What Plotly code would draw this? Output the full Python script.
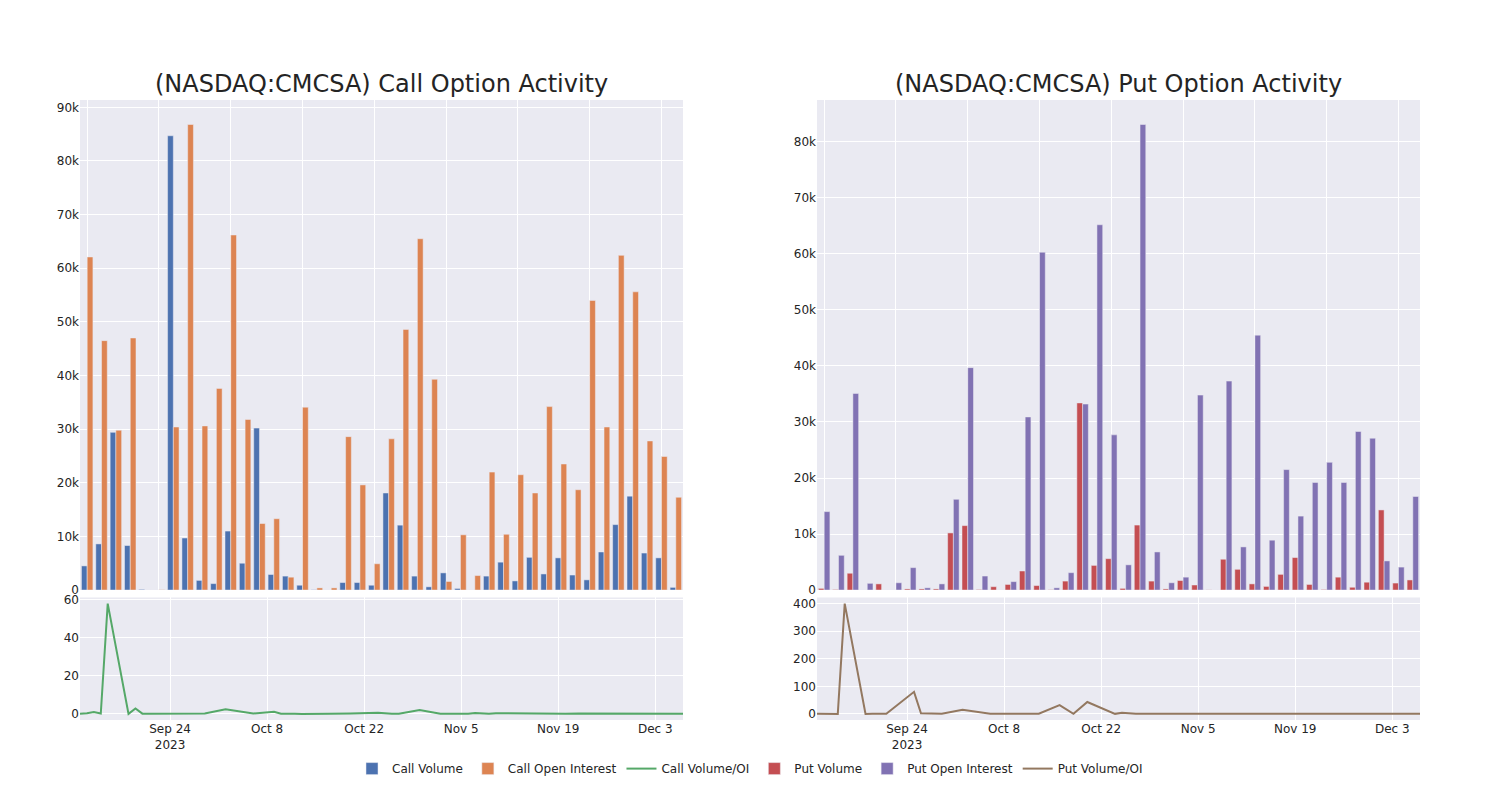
import plotly.graph_objects as go
from plotly.subplots import make_subplots

# ---------------- data ----------------
call_dates = [
    "2023-09-11", "2023-09-12", "2023-09-13", "2023-09-14", "2023-09-15", "2023-09-18",
    "2023-09-19", "2023-09-20", "2023-09-21", "2023-09-25", "2023-09-27", "2023-09-29",
    "2023-10-02", "2023-10-06", "2023-10-09", "2023-10-10", "2023-10-12", "2023-10-13",
    "2023-10-17", "2023-10-19", "2023-10-20", "2023-10-24", "2023-10-25", "2023-10-26",
    "2023-10-27", "2023-10-30", "2023-11-02", "2023-11-03", "2023-11-06", "2023-11-07",
    "2023-11-09", "2023-11-10", "2023-11-14", "2023-11-16", "2023-11-17", "2023-11-20",
    "2023-11-22", "2023-11-27", "2023-11-29", "2023-12-01", "2023-12-05", "2023-12-07",
]
call_volume = [
    4500, 8600, 29400, 8300, 120, 0, 84700, 9700, 1800, 1200,
    11000, 5000, 30200, 2900, 2600, 900, 50, 0, 1400, 1400,
    900, 18100, 12100, 2600, 600, 3200, 300, 0, 2600, 5200,
    1700, 6100, 3000, 6000, 2800, 1900, 7100, 12200, 17500, 6900,
    6000, 500,
]
call_open_interest = [
    62100, 46500, 29800, 47000, 2, 50, 30400, 86800, 30600, 37600,
    66200, 31800, 12400, 13300, 2400, 34100, 400, 400, 28600, 19600,
    4900, 28200, 48600, 65500, 39300, 1600, 10300, 2700, 22000, 10400,
    21500, 18100, 34200, 23500, 18700, 54000, 30400, 62400, 55600, 27800,
    24900, 17300,
]
call_volume_oi = [
    0.07, 0.3, 1.0, 0.18, 58, 0, 2.8, 0.11, 0.06, 0.03,
    0.17, 0.16, 2.44, 0.22, 1.08, 0.03, 0.1, 0, 0.05, 0.07,
    0.18, 0.64, 0.25, 0.04, 0.02, 2.0, 0.03, 0, 0.12, 0.5,
    0.08, 0.34, 0.09, 0.26, 0.15, 0.04, 0.23, 0.2, 0.31, 0.25,
    0.24, 0.03,
]

put_dates = [
    "2023-09-11", "2023-09-12", "2023-09-13", "2023-09-14", "2023-09-15", "2023-09-18",
    "2023-09-19", "2023-09-20", "2023-09-21", "2023-09-25", "2023-09-26", "2023-09-29",
    "2023-10-02", "2023-10-06", "2023-10-09", "2023-10-10", "2023-10-11", "2023-10-13",
    "2023-10-16", "2023-10-18", "2023-10-20", "2023-10-24", "2023-10-25", "2023-10-26",
    "2023-10-27", "2023-10-31", "2023-11-02", "2023-11-03", "2023-11-06", "2023-11-08",
    "2023-11-09", "2023-11-13", "2023-11-15", "2023-11-16", "2023-11-20", "2023-11-22",
    "2023-11-27", "2023-11-29", "2023-12-01", "2023-12-05", "2023-12-06", "2023-12-07",
]
put_volume = [
    300, 100, 3000, 0, 1100, 0, 200, 200, 200, 10200,
    11500, 100, 600, 1000, 3400, 800, 50, 1600, 33400, 4400,
    5600, 300, 11600, 1600, 200, 1700, 900, 30, 5500, 3700,
    1100, 650, 2800, 5800, 1000, 100, 2300, 500, 1400, 14300,
    1250, 1800,
]
put_open_interest = [
    14000, 6200, 35100, 1200, 3, 1300, 4000, 400, 1100, 16200,
    39700, 2500, 8, 1500, 30900, 60300, 400, 3100, 33200, 65200,
    27700, 4500, 83100, 6800, 1300, 2300, 34800, 2, 37300, 7700,
    45500, 8900, 21500, 13200, 19200, 22800, 19200, 28300, 27100, 5200,
    4100, 16700,
]
put_volume_oi = [
    0.02, 0.02, 0.1, 0, 400, 0, 0.05, 0.5, 0.2, 80,
    2, 0.1, 15, 0.7, 0.1, 0.01, 0.1, 0.5, 32, 0.1,
    43, 0.1, 4, 1.5, 0.2, 0.7, 0.03, 1, 0.15, 0.5,
    0.02, 0.1, 0.13, 0.44, 0.05, 0.0, 0.12, 0.02, 0.05, 2.75,
    0.3, 0.1,
]

call_title = "(NASDAQ:CMCSA) Call Option Activity"
put_title = "(NASDAQ:CMCSA) Put Option Activity"

# ---------------- figure ----------------
fig = make_subplots(
    rows=2, cols=2,
    row_heights=[0.8, 0.2],
    vertical_spacing=0.012,
    horizontal_spacing=0.1,
    subplot_titles=(call_title, put_title, "", ""),
)

fig.add_trace(go.Bar(x=call_dates, y=call_volume, name="Call Volume"), row=1, col=1)
fig.add_trace(go.Bar(x=call_dates, y=call_open_interest, name="Call Open Interest"), row=1, col=1)
fig.add_trace(go.Scatter(x=call_dates, y=call_volume_oi, mode="lines", name="Call Volume/OI"), row=2, col=1)
fig.add_trace(go.Bar(x=put_dates, y=put_volume, name="Put Volume"), row=1, col=2)
fig.add_trace(go.Bar(x=put_dates, y=put_open_interest, name="Put Open Interest"), row=1, col=2)
fig.add_trace(go.Scatter(x=put_dates, y=put_volume_oi, mode="lines", name="Put Volume/OI"), row=2, col=2)

for c in (1, 2):
    fig.update_xaxes(type="category", showticklabels=False, tickmode="linear",
                     tick0=0, dtick=5, row=1, col=c)
    fig.update_xaxes(type="date", row=2, col=c)

fig.update_annotations(font=dict(size=24, family="DejaVu Sans"))

fig.update_layout(
    template="seaborn",
    font=dict(family="DejaVu Sans"),
    width=1492, height=792,
    margin=dict(l=72, r=80, t=92, b=80),
    barmode="group",
    legend=dict(orientation="h", x=0.5, xanchor="center", y=-0.055, yanchor="top"),
)

fig.write_html("out.html")
